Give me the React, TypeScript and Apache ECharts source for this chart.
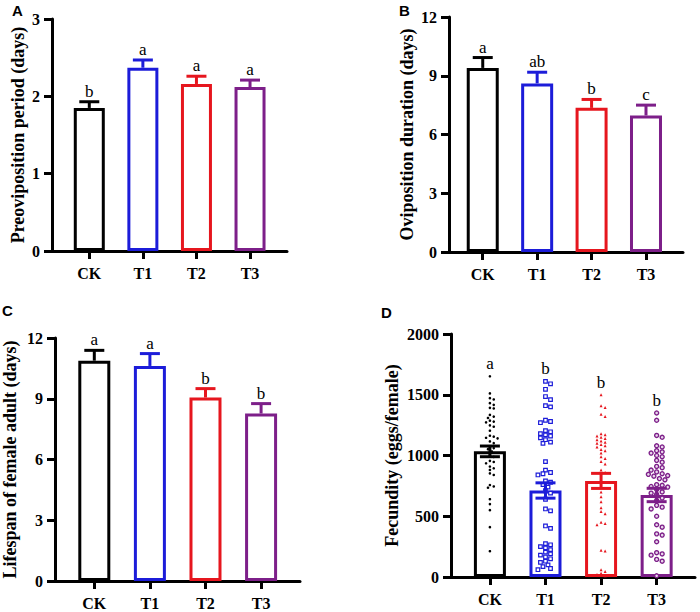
import React, { useEffect, useRef } from "react";
import * as echarts from "echarts";

// Treatment groups
const groups = ["CK", "T1", "T2", "T3"];

// Preoviposition period (days): mean, SE, significance letters
const preovMean = [1.85, 2.37, 2.16, 2.12];
const preovSE = [0.08, 0.1, 0.1, 0.09];
const preovLetters = ["b", "a", "a", "a"];

// Oviposition duration (days)
const ovipMean = [9.4, 8.61, 7.36, 6.97];
const ovipSE = [0.53, 0.57, 0.43, 0.53];
const ovipLetters = ["a", "ab", "b", "c"];

// Lifespan of female adult (days)
const lifeMean = [10.88, 10.62, 9.06, 8.27];
const lifeSE = [0.51, 0.61, 0.44, 0.49];
const lifeLetters = ["a", "a", "b", "b"];

// Fecundity (eggs/female)
const fecMean = [1034, 712, 791, 675];
const fecSE = [44, 63, 62, 55];
const fecLetters = ["a", "b", "b", "b"];

// Individual females, fecundity per group
const fecCK = [
  1652, 1511, 1472, 1461, 1431, 1417, 1392, 1387, 1334, 1320, 1309, 1287, 1279, 1273, 1248,
  1237, 1204, 1163, 1155, 1146, 1141, 1116, 1102, 1074, 1061, 1052, 1033, 1000, 989, 956,
  947, 936, 909, 895, 881, 853, 840, 757, 745, 735, 640, 600, 550, 410, 212,
];
const fecT1 = [
  1610, 1590, 1545, 1485, 1460, 1410, 1400, 1290, 1280, 1270, 1205, 1195, 1180, 1170, 1160,
  1145, 1130, 1110, 1100, 950, 880, 860, 850, 840, 790, 780, 760, 740, 710, 690, 640, 560,
  545, 420, 400, 275, 265, 250, 240, 225, 205, 190, 180, 165, 150, 130, 120, 100, 85, 70, 60,
];
const fecT2 = [
  1500, 1410, 1395, 1340, 1320, 1180, 1170, 1160, 1150, 1140, 1130, 1120, 1110, 1100, 1090,
  1080, 1070, 1050, 1040, 1020, 990, 975, 950, 930, 880, 860, 740, 700, 660, 620, 570, 540,
  520, 450, 440, 430, 220, 215, 60, 45, 30, 20, 10,
];
const fecT3 = [
  1350, 1290, 1165, 1150, 1080, 1070, 1040, 1030, 1020, 1000, 990, 960, 945, 910, 900, 880,
  865, 850, 845, 835, 830, 810, 800, 760, 755, 745, 740, 720, 700, 690, 680, 650, 630, 590,
  575, 560, 500, 430, 410, 355, 345, 290, 200, 190, 180, 145, 130, 10,
];

const groupColors = ["#000000", "#1c1cd9", "#e6161e", "#7d1f89"];
const serif = "Liberation Serif";
const sans = "Liberation Sans";

type Panel = {
  left: number;
  top: number;
  width: number;
  height: number;
  xMin: number;
  xMax: number;
  yMax: number;
  yInterval: number;
  name: string;
  nameGap: number;
  barWidth: number;
  tag: string;
  tagX: number;
  tagY: number;
};

const panels: Panel[] = [
  { left: 52, top: 19, width: 235, height: 232, xMin: -0.696, xMax: 3.69, yMax: 3, yInterval: 1,
    name: "Preoviposition period (days)", nameGap: 25, barWidth: 31, tag: "A", tagX: 12, tagY: 3 },
  { left: 449, top: 17, width: 234, height: 235, xMin: -0.62, xMax: 3.68, yMax: 12, yInterval: 3,
    name: "Oviposition duration (days)", nameGap: 33, barWidth: 32, tag: "B", tagX: 399, tagY: 3 },
  { left: 55, top: 338, width: 245, height: 243, xMin: -0.707, xMax: 3.7, yMax: 12, yInterval: 3,
    name: "Lifespan of female adult (days)", nameGap: 36, barWidth: 32, tag: "C", tagX: 2, tagY: 303 },
  { left: 451, top: 334, width: 244, height: 243, xMin: -0.7, xMax: 3.69, yMax: 2000, yInterval: 500,
    name: "Fecundity (eggs/female)", nameGap: 50, barWidth: 32, tag: "D", tagX: 381, tagY: 305 },
];

// Spread points of one group sideways so that they do not overlap (beeswarm)
function swarm(values: number[], idx: number, pxPerX: number, pxPerY: number, minD: number) {
  const sorted = values.slice().sort((a, b) => b - a);
  const placed: { x: number; y: number }[] = [];
  const out: number[][] = [];
  for (const v of sorted) {
    const y = v * pxPerY;
    let chosen = 0;
    for (let k = 0; k < 60; k++) {
      const off = k === 0 ? 0 : (k % 2 ? 1 : -1) * Math.ceil(k / 2) * minD * 0.6;
      const ok = placed.every((p) => Math.hypot(p.x - off, p.y - y) >= minD);
      if (ok) {
        chosen = off;
        break;
      }
    }
    placed.push({ x: chosen, y });
    out.push([idx + chosen / pxPerX, v]);
  }
  return out;
}

const axisLineStyle = { color: "#000", width: 3 };

function labelStyle() {
  return {
    color: "#000",
    fontFamily: serif,
    fontWeight: "bold",
    fontSize: 16,
  };
}

function buildOption() {
  const grid = panels.map((p) => ({ left: p.left, top: p.top, width: p.width, height: p.height }));
  const xAxis = panels.map((p, k) => ({
    type: "value",
    gridIndex: k,
    min: p.xMin,
    max: p.xMax,
    axisLine: { show: true, onZero: false, lineStyle: axisLineStyle },
    axisTick: { show: true, customValues: [0, 1, 2, 3], length: 8, lineStyle: { color: "#000", width: 3 } },
    axisLabel: {
      show: true,
      customValues: [0, 1, 2, 3],
      formatter: (v: number) => groups[Math.round(v)] ?? "",
      margin: 14,
      ...labelStyle(),
    },
    splitLine: { show: false },
  }));
  const yAxis = panels.map((p, k) => ({
    type: "value",
    gridIndex: k,
    min: 0,
    max: p.yMax,
    interval: p.yInterval,
    axisLine: { show: true, onZero: false, lineStyle: axisLineStyle },
    axisTick: { show: true, length: 8, lineStyle: { color: "#000", width: 3 } },
    axisLabel: { margin: 12, formatter: (v: number) => String(v), ...labelStyle() },
    splitLine: { show: false },
    name: p.name,
    nameLocation: "middle",
    nameGap: p.nameGap,
    nameTextStyle: { color: "#000", fontFamily: serif, fontWeight: "bold", fontSize: 18 },
  }));

  const datasets = [
    { mean: preovMean, se: preovSE, letters: preovLetters, both: false },
    { mean: ovipMean, se: ovipSE, letters: ovipLetters, both: false },
    { mean: lifeMean, se: lifeSE, letters: lifeLetters, both: false },
    { mean: fecMean, se: fecSE, letters: fecLetters, both: true },
  ];
  const fecPoints = [fecCK, fecT1, fecT2, fecT3];

  const series: any[] = [];
  datasets.forEach((d, k) => {
    const p = panels[k];
    series.push({
      type: "bar",
      xAxisIndex: k,
      yAxisIndex: k,
      barWidth: p.barWidth,
      z: 2,
      data: d.mean.map((m, i) => ({
        value: [i, m],
        itemStyle: { color: "rgba(255,255,255,0)", borderColor: groupColors[i], borderWidth: 3 },
      })),
    });

    if (d.both) {
      const pxPerX = p.width / (p.xMax - p.xMin);
      const pxPerY = p.height / p.yMax;
      const symbols = [
        { symbol: "circle", size: 2.6, fill: groupColors[0], border: 0, gap: 3.2 },
        { symbol: "rect", size: 3.6, fill: "#ffffff", border: 1.2, gap: 4.2 },
        { symbol: "triangle", size: 3, fill: groupColors[2], border: 0, gap: 3.4 },
        { symbol: "circle", size: 4, fill: "#e9d8ec", border: 1.4, gap: 4.6 },
      ];
      fecPoints.forEach((vals, i) => {
        const s = symbols[i];
        series.push({
          type: "scatter",
          xAxisIndex: k,
          yAxisIndex: k,
          z: 3,
          symbol: s.symbol,
          symbolSize: s.size,
          itemStyle: { color: s.fill, borderColor: groupColors[i], borderWidth: s.border, opacity: 1 },
          data: swarm(vals, i, pxPerX, pxPerY, s.gap),
        });
      });
    }

    // error bars (SE)
    series.push({
      type: "custom",
      xAxisIndex: k,
      yAxisIndex: k,
      z: 4,
      data: d.mean.map((m, i) => [i, m, d.se[i]]),
      renderItem: (params: any, api: any) => {
        const i = api.value(0);
        const m = api.value(1);
        const se = api.value(2);
        const color = groupColors[params.dataIndex];
        const top = api.coord([i, m + se]);
        const bottom = api.coord([i, d.both ? m - se : m]);
        const half = 10;
        const style = { stroke: color, lineWidth: 3 };
        const children: any[] = [
          { type: "line", shape: { x1: top[0], y1: bottom[1], x2: top[0], y2: top[1] }, style },
          { type: "line", shape: { x1: top[0] - half, y1: top[1], x2: top[0] + half, y2: top[1] }, style },
        ];
        if (d.both) {
          children.push({
            type: "line",
            shape: { x1: top[0] - half, y1: bottom[1], x2: top[0] + half, y2: bottom[1] },
            style,
          });
        }
        return { type: "group", children };
      },
    });

    // significance letters
    const anchors = d.both
      ? fecPoints.map((vals) => Math.max(...vals))
      : d.mean.map((m, i) => m + d.se[i]);
    series.push({
      type: "custom",
      xAxisIndex: k,
      yAxisIndex: k,
      z: 5,
      data: anchors.map((a, i) => [i, a]),
      renderItem: (params: any, api: any) => {
        const pt = api.coord([api.value(0), api.value(1)]);
        return {
          type: "text",
          x: pt[0],
          y: pt[1] - (d.both ? 4 : 2),
          style: {
            text: d.letters[params.dataIndex],
            fontFamily: serif,
            fontSize: 17,
            fill: "#000",
            align: "center",
            verticalAlign: "bottom",
          },
        };
      },
    });
  });

  const graphic = panels.map((p) => ({
    type: "text",
    x: p.tagX,
    y: p.tagY,
    style: {
      text: p.tag,
      fontFamily: sans,
      fontWeight: "bold",
      fontSize: 15,
      fill: "#000",
      align: "left",
      verticalAlign: "top",
    },
  }));

  return {
    animation: false,
    backgroundColor: "#ffffff",
    textStyle: { fontFamily: serif },
    grid,
    xAxis,
    yAxis,
    series,
    graphic,
  };
}

export default function App() {
  const ref = useRef<HTMLDivElement>(null);
  useEffect(() => {
    if (!ref.current) return;
    const chart = echarts.init(ref.current, null, { renderer: "svg" });
    chart.setOption(buildOption() as any);
    return () => chart.dispose();
  }, []);
  return (
    <div
      ref={ref}
      style={{ position: "fixed", left: 0, top: 0, width: 700, height: 612, background: "#fff" }}
    />
  );
}
